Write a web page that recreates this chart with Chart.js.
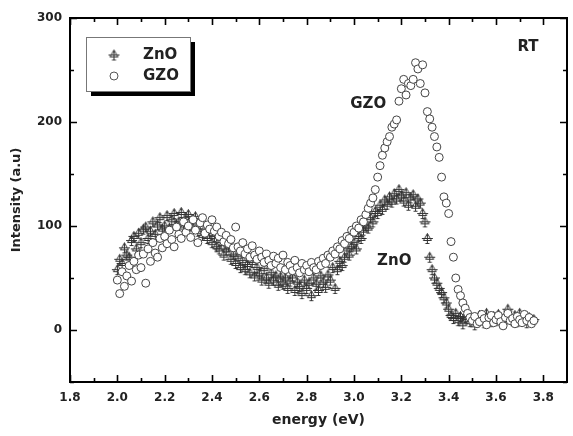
<!DOCTYPE html>
<html>
<head>
<meta charset="utf-8">
<script src="https://cdn.jsdelivr.net/npm/chart.js@4/dist/chart.umd.min.js"></script>
<style>
  html, body { margin: 0; padding: 0; background: #fff; overflow: hidden; }
</style>
</head>
<body>
<canvas id="myChart" width="573" height="436"></canvas>
<script>
// photon energy (eV) of each sample point
var energy = [
  2.00, 2.01, 2.02, 2.03, 2.04, 2.05, 2.06, 2.07, 2.08, 2.09,
  2.10, 2.11, 2.12, 2.13, 2.14, 2.15, 2.16, 2.17, 2.18, 2.19,
  2.20, 2.21, 2.22, 2.23, 2.24, 2.25, 2.26, 2.27, 2.28, 2.29,
  2.30, 2.31, 2.32, 2.33, 2.34, 2.35, 2.36, 2.37, 2.38, 2.39,
  2.40, 2.41, 2.42, 2.43, 2.44, 2.45, 2.46, 2.47, 2.48, 2.49,
  2.50, 2.51, 2.52, 2.53, 2.54, 2.55, 2.56, 2.57, 2.58, 2.59,
  2.60, 2.61, 2.62, 2.63, 2.64, 2.65, 2.66, 2.67, 2.68, 2.69,
  2.70, 2.71, 2.72, 2.73, 2.74, 2.75, 2.76, 2.77, 2.78, 2.79,
  2.80, 2.81, 2.82, 2.83, 2.84, 2.85, 2.86, 2.87, 2.88, 2.89,
  2.90, 2.91, 2.92, 2.93, 2.94, 2.95, 2.96, 2.97, 2.98, 2.99,
  3.00, 3.01, 3.02, 3.03, 3.04, 3.05, 3.06, 3.07, 3.08, 3.09,
  3.10, 3.11, 3.12, 3.13, 3.14, 3.15, 3.16, 3.17, 3.18, 3.19,
  3.20, 3.21, 3.22, 3.23, 3.24, 3.25, 3.26, 3.27, 3.28, 3.29,
  3.30, 3.31, 3.32, 3.33, 3.34, 3.35, 3.36, 3.37, 3.38, 3.39,
  3.40, 3.41, 3.42, 3.43, 3.44, 3.45, 3.46, 3.47, 3.48, 3.49,
  3.50, 3.51, 3.52, 3.53, 3.54, 3.55, 3.56, 3.57, 3.58, 3.59,
  3.60, 3.61, 3.62, 3.63, 3.64, 3.65, 3.66, 3.67, 3.68, 3.69,
  3.70, 3.71, 3.72, 3.73, 3.74, 3.75, 3.76
];

// PL intensity (a.u.), undoped ZnO
var zno = [
  58, 68, 64, 79, 72, 70, 86, 90, 78, 93,
  84, 97, 99, 88, 95, 104, 92, 101, 108, 97,
  100, 110, 98, 106, 112, 101, 104, 113, 99, 108,
  111, 100, 106, 109, 95, 102, 91, 97, 88, 93,
  84, 90, 80, 78, 86, 72, 77, 80, 68, 73,
  64, 71, 60, 67, 58, 63, 55, 65, 52, 60,
  54, 48, 59, 50, 45, 55, 48, 52, 43, 51,
  44, 50, 40, 47, 52, 38, 46, 42, 35, 48,
  40, 45, 33, 50, 44, 38, 52, 46, 41, 53,
  48, 60, 40, 58, 66, 62, 70, 78, 72, 80,
  84, 78, 90, 88, 96, 100, 98, 108, 104, 114,
  112, 120, 116, 125, 121, 128, 123, 131, 126, 135,
  129, 124, 132, 120, 127, 130, 119, 126, 122, 112,
  104, 88, 70, 58, 50, 45, 40, 36, 31, 26,
  20, 14, 11, 16, 9, 13, 6, 12, 15, 8,
  11, 5, 9, 14, 10, 7, 16, 12, 8, 13,
  9, 15, 11, 7, 13, 20, 12, 9, 14, 8,
  16, 11, 13, 7, 12, 9, 10
];

// PL intensity (a.u.), Ga-doped ZnO
var gzo = [
  48, 35, 56, 42, 52, 62, 47, 66, 58, 72,
  60, 73, 45, 78, 66, 84, 74, 70, 88, 79,
  90, 83, 96, 87, 80, 99, 92, 88, 104, 94,
  100, 89, 106, 96, 84, 103, 108, 93, 101, 97,
  106, 95, 99, 90, 94, 85, 91, 83, 87, 79,
  99, 80, 76, 84, 73, 78, 70, 81, 72, 68,
  76, 70, 65, 73, 67, 62, 71, 64, 69, 60,
  72, 58, 65, 62, 57, 67, 60, 55, 64, 58,
  62, 56, 65, 60, 58, 66, 62, 69, 64, 72,
  70, 76, 73, 80, 78, 86, 83, 90, 88, 96,
  94, 100, 98, 106, 104, 111, 117, 122, 127, 135,
  147, 158, 168, 175, 181, 186, 195, 198, 202, 220,
  232, 241, 226, 237, 235, 241, 257, 251, 237, 255,
  228, 210, 203, 195, 186, 176, 166, 147, 128, 122,
  112, 85, 70, 50, 39, 33, 26, 21, 16, 12,
  9, 13, 6, 8, 15, 11, 5, 12, 14, 7,
  10, 14, 8, 4, 12, 16, 9, 11, 6, 13,
  10, 7, 15, 9, 12, 6, 9
];

var xMajor = [1.8, 2.0, 2.2, 2.4, 2.6, 2.8, 3.0, 3.2, 3.4, 3.6, 3.8];
var xMinor = [1.9, 2.1, 2.3, 2.5, 2.7, 2.9, 3.1, 3.3, 3.5, 3.7];
var yMajor = [0, 100, 200, 300];
var yMinor = [-50, 50, 150, 250];

var FONT = "'DejaVu Sans', Verdana, sans-serif";
var INK = '#222';

// triangle-with-cross marker used for ZnO
function triCross() {
  var c = document.createElement('canvas');
  c.width = 13; c.height = 13;
  var g = c.getContext('2d');
  g.strokeStyle = '#333';
  g.lineWidth = 1;
  g.beginPath();
  g.moveTo(6.5, 1.5); g.lineTo(10.5, 8.5); g.lineTo(2.5, 8.5); g.closePath();
  g.moveTo(1, 6.5); g.lineTo(12, 6.5);
  g.moveTo(6.5, 1.5); g.lineTo(6.5, 12);
  g.moveTo(4.5, 11.5); g.lineTo(8.5, 11.5);
  g.stroke();
  return c;
}
var triMark = triCross();

function pts(ys) {
  return ys.map(function (v, i) { return { x: energy[i], y: v }; });
}

// frame with inward ticks on all four sides
var frame = {
  id: 'frame',
  afterDraw: function (chart) {
    var ctx = chart.ctx, a = chart.chartArea;
    var xs = chart.scales.x, ys = chart.scales.y;
    ctx.save();
    ctx.strokeStyle = '#000';
    ctx.lineWidth = 2;
    ctx.strokeRect(a.left, a.top, a.right - a.left, a.bottom - a.top);
    ctx.lineWidth = 1.6;
    ctx.beginPath();
    function xt(v, len) {
      var p = Math.round(xs.getPixelForValue(v)) + 0.5;
      ctx.moveTo(p, a.bottom); ctx.lineTo(p, a.bottom - len);
      ctx.moveTo(p, a.top); ctx.lineTo(p, a.top + len);
    }
    function yt(v, len) {
      var p = Math.round(ys.getPixelForValue(v)) + 0.5;
      ctx.moveTo(a.left, p); ctx.lineTo(a.left + len, p);
      ctx.moveTo(a.right, p); ctx.lineTo(a.right - len, p);
    }
    xMajor.forEach(function (v) { xt(v, 7); });
    xMinor.forEach(function (v) { xt(v, 4); });
    yMajor.forEach(function (v) { yt(v, 7); });
    yMinor.forEach(function (v) { yt(v, 4); });
    ctx.stroke();
    ctx.restore();
  }
};

// text labels and the boxed legend
var labels = {
  id: 'labels',
  afterDraw: function (chart) {
    var ctx = chart.ctx;
    var xs = chart.scales.x, ys = chart.scales.y;
    ctx.save();
    ctx.fillStyle = INK;
    ctx.textAlign = 'center';
    ctx.textBaseline = 'middle';
    ctx.font = 'bold 15px ' + FONT;
    ctx.fillText('RT', xs.getPixelForValue(3.735), ys.getPixelForValue(272));
    ctx.fillText('GZO', xs.getPixelForValue(3.06), ys.getPixelForValue(217));
    ctx.fillText('ZnO', xs.getPixelForValue(3.17), ys.getPixelForValue(66));

    // legend box with drop shadow
    var bx = 86, by = 37, bw = 104, bh = 54;
    ctx.fillStyle = '#000';
    ctx.fillRect(bx + 5, by + 5, bw, bh);
    ctx.fillStyle = '#fff';
    ctx.fillRect(bx, by, bw, bh);
    ctx.strokeStyle = '#777';
    ctx.lineWidth = 1;
    ctx.strokeRect(bx + 0.5, by + 0.5, bw, bh);

    ctx.drawImage(triMark, 114 - 6.5, 55 - 6.5);
    ctx.beginPath();
    ctx.arc(114, 76, 4, 0, Math.PI * 2);
    ctx.strokeStyle = '#555';
    ctx.stroke();

    ctx.fillStyle = INK;
    ctx.textAlign = 'left';
    ctx.fillText('ZnO', 143, 55);
    ctx.fillText('GZO', 143, 76);
    ctx.restore();
  }
};

var ctx = document.getElementById('myChart').getContext('2d');

var myChart = new Chart(ctx, {
  type: 'scatter',
  data: {
    datasets: [{
      label: 'GZO',
      data: pts(gzo),
      order: 0,
      pointStyle: 'circle',
      pointRadius: 4,
      borderWidth: 1,
      borderColor: '#444',
      backgroundColor: '#fff'
    }, {
      label: 'ZnO',
      data: pts(zno),
      order: 1,
      pointStyle: triMark,
      pointRadius: 5
    }]
  },
  options: {
    responsive: false,
    animation: false,
    events: [],
    layout: { padding: { top: 18, right: 1, left: 0, bottom: 0 } },
    plugins: {
      legend: { display: false },
      tooltip: { enabled: false }
    },
    scales: {
      x: {
        type: 'linear',
        min: 1.8,
        max: 3.9,
        grid: { display: false, drawTicks: false },
        border: { display: false },
        afterBuildTicks: function (s) { s.ticks = xMajor.map(function (v) { return { value: v }; }); },
        afterFit: function (s) { s.height = 54; },
        ticks: {
          padding: 9,
          color: INK,
          font: { family: FONT, size: 12, weight: 'bold' },
          callback: function (v) { return Number(v).toFixed(1); }
        },
        title: {
          display: true,
          text: 'energy (eV)',
          color: INK,
          font: { family: FONT, size: 14, weight: 'bold' },
          padding: { bottom: 7 }
        }
      },
      y: {
        type: 'linear',
        min: -50,
        max: 300,
        grid: { display: false, drawTicks: false },
        border: { display: false },
        afterBuildTicks: function (s) { s.ticks = yMajor.map(function (v) { return { value: v }; }); },
        afterFit: function (s) { s.width = 70; },
        ticks: {
          padding: 8,
          color: INK,
          font: { family: FONT, size: 12, weight: 'bold' },
          callback: function (v) { return String(v); }
        },
        title: {
          display: true,
          text: 'Intensity (a.u)',
          color: INK,
          font: { family: FONT, size: 13, weight: 'bold' },
          padding: { top: 9 }
        }
      }
    }
  },
  plugins: [frame, labels]
});
</script>
</body>
</html>
